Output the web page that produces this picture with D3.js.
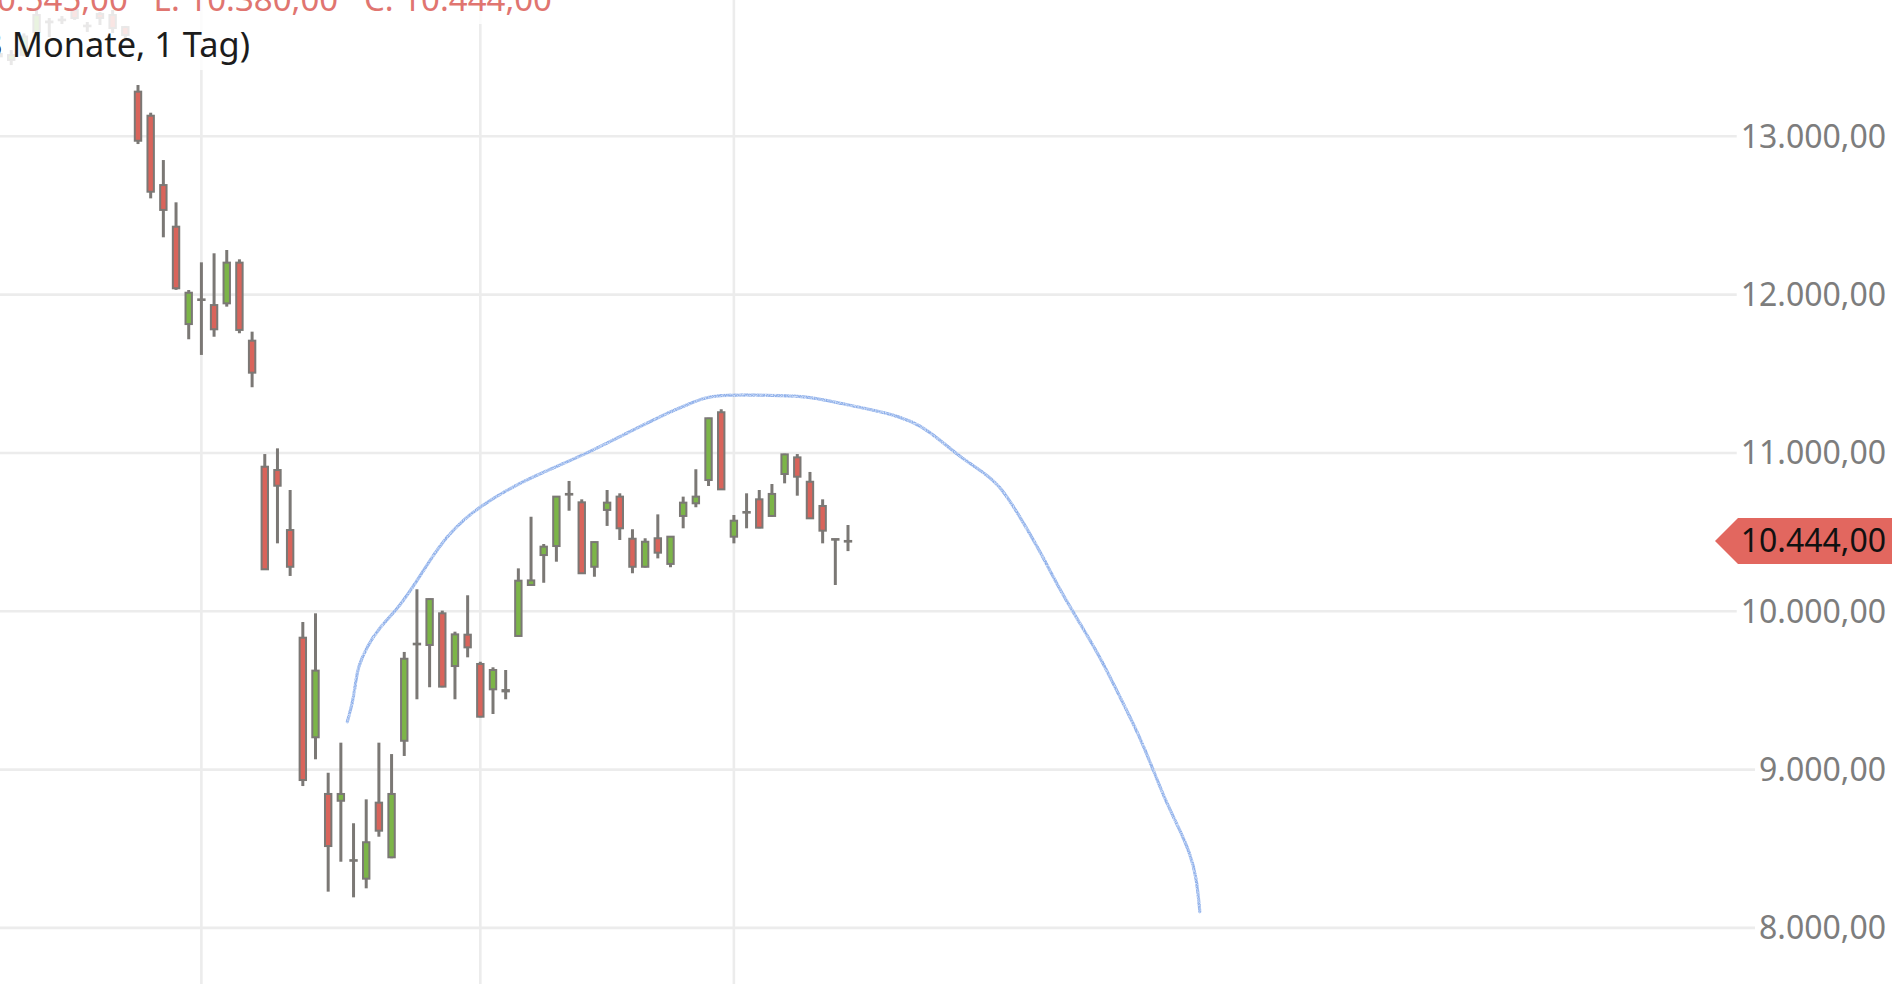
<!DOCTYPE html>
<html><head><meta charset="utf-8">
<script src="https://cdn.jsdelivr.net/npm/d3@7"></script>
<style>
html,body{margin:0;padding:0;background:#fff;overflow:hidden}
svg{display:block}
text{font-family:"Noto Sans","Open Sans",sans-serif}
</style></head><body>
<svg id="chart" width="1892" height="984"></svg>
<script>
// ---- data (trading days) ----
const dates = [
 "2020-02-07","2020-02-10","2020-02-11","2020-02-12","2020-02-13","2020-02-14",
 "2020-02-17","2020-02-18","2020-02-19","2020-02-20","2020-02-21",
 "2020-02-24","2020-02-25","2020-02-26","2020-02-27","2020-02-28",
 "2020-03-02","2020-03-03","2020-03-04","2020-03-05","2020-03-06",
 "2020-03-09","2020-03-10","2020-03-11","2020-03-12","2020-03-13",
 "2020-03-16","2020-03-17","2020-03-18","2020-03-19","2020-03-20",
 "2020-03-23","2020-03-24","2020-03-25","2020-03-26","2020-03-27",
 "2020-03-30","2020-03-31","2020-04-01","2020-04-02","2020-04-03",
 "2020-04-06","2020-04-07","2020-04-08","2020-04-09",
 "2020-04-14","2020-04-15","2020-04-16","2020-04-17",
 "2020-04-20","2020-04-21","2020-04-22","2020-04-23","2020-04-24",
 "2020-04-27","2020-04-28","2020-04-29","2020-04-30",
 "2020-05-04","2020-05-05","2020-05-06","2020-05-07","2020-05-08",
 "2020-05-11","2020-05-12","2020-05-13","2020-05-14","2020-05-15"
];
const open = [13520,13482,13515,13659,13725,13737,13798,13699,13773,13766,13690,
 13282,13130,12692,12429,11814, 11970,11934,11945,12202,11709,
 10913,10892,10513,9833,9204, 8846,8803,8428,8311,8791,
 8446,9182,9795,9787,9987, 9654,9852,9667,9507,9502,
 9844,10166,10355,10412, 10741,10688,10281,10640,
 10724,10458,10281,10461,10299, 10602,10682,10829,11257,
 10471,10627,10707,10602,10867, 10972,10818,10665,10456,10440];
const high = [13548,13545,13650,13798,13747,13760,13804,13722,13785,13798,13697,
 13324,13149,12850,12583,12029, 12204,12261,12282,12223,11766,
 10993,11029,10766,9932,9987, 8980,9170,8661,8812,9170,
 9098,9743,10139,10080,10004, 9871,10101,9681,9646,9629,
 10271,10597,10425,10727, 10823,10707,10440,10766,
 10745,10518,10461,10612,10475, 10724,10897,11222,11276,
 10608,10745,10766,10804,10995, 10993,10880,10707,10458,10545];
const low = [13495,13450,13505,13652,13627,13709,13735,13659,13703,13652,13620,
 12951,12608,12362,12030,11718, 11619,11734,11924,11756,11415,
 10262,10429,10223,8896,9065, 8229,8418,8193,8250,8576,
 8440,9086,9444,9520,9520, 9444,9709,9330,9351,9444,
 9840,10163,10180,10313, 10635,10236,10218,10539,
 10450,10240,10276,10334,10278, 10524,10657,10791,10766,
 10429,10524,10524,10598,10808, 10730,10583,10429,10166,10380];
const close = [13505,13513,13630,13766,13720,13733,13747,13695,13747,13684,13640,
 12972,12650,12535,12040,12012, 11966,11781,12202,11777,11507,
 10265,10793,10281,8934,9625, 8517,8846,8424,8541,8614,
 8846,9700,9791,10077,9524, 9854,9772,9334,9629,9494,
 10193,10195,10408,10724, 10737,10240,10437,10686,
 10524,10281,10439,10370,10471, 10686,10724,11219,10770,
 10572,10623,10528,10741,10991, 10850,10587,10509,10452,10444];

const yTicks = [8000, 9000, 10000, 11000, 12000, 13000];
const monthStarts = ["2020-03-02", "2020-04-01", "2020-05-04"];

// freehand drawing: trading-day position (same units as dates index) and value
const drawingT = [27.51,27.98,28.19,28.37,29.04,30.09,31.40,32.71,34.03,35.34,36.65,37.97,
 40.08,42.17,44.28,46.39,48.48,50.59,52.70,54.27,55.85,57.43,60.05,63.21,64.53,66.36,
 68.99,71.09,72.67,74.25,75.83,77.40,78.98,80.56,82.14,83.71,85.29,86.87,88.44,90.02,
 91.07,92.13,93.18,93.97,94.49,94.75];
const drawingValue = [9302,9440,9566,9650,9776,9902,10008,10155,10324,10471,10576,10660,
 10766,10850,10924,10998,11082,11166,11250,11303,11355,11366,11366,11360,11345,11314,
 11271,11229,11176,11082,10976,10892,10798,10597,10381,10134,9924,9713,9460,9208,
 8997,8787,8618,8471,8323,8102];

const titleText = "DAX (3 Monate, 1 Tag)";

// ---- drawing ----
const W = 1892, H = 984;
const svg = d3.select("#chart");
const de = d3.formatLocale({decimal: ",", thousands: ".", grouping: [3], currency: ["", "€"]});
const fmt = de.format(",.2f");

const x = d3.scaleLinear().domain([11, 67]).range([138, 848]);
const y = d3.scaleLinear().domain([8000, 13000]).range([927.9, 136.3]);

// grain filter for the freehand stroke
const defs = svg.append("defs");
const f = defs.append("filter").attr("id", "grain").attr("filterUnits", "userSpaceOnUse")
  .attr("x", 0).attr("y", 0).attr("width", W).attr("height", H);
f.append("feTurbulence").attr("type", "fractalNoise").attr("baseFrequency", 1.1)
  .attr("numOctaves", 1).attr("seed", 4).attr("result", "n");
f.append("feColorMatrix").attr("in", "n").attr("type", "matrix")
  .attr("values", "0 0 0 0 0  0 0 0 0 0  0 0 0 0 0  0 0 0 2.4 -0.55").attr("result", "a");
f.append("feComposite").attr("in", "SourceGraphic").attr("in2", "a").attr("operator", "in");

const gridColor = "#ececec";
const gGrid = svg.append("g");
gGrid.selectAll("line.h").data(yTicks).join("line")
  .attr("x1", 0).attr("x2", W)
  .attr("y1", d => y(d)).attr("y2", d => y(d))
  .attr("stroke", gridColor).attr("stroke-width", 2.6);
gGrid.selectAll("line.v").data(monthStarts).join("line")
  .attr("x1", d => x(dates.indexOf(d))).attr("x2", d => x(dates.indexOf(d)))
  .attr("y1", 0).attr("y2", H)
  .attr("stroke", gridColor).attr("stroke-width", 2.6);

const candles = dates.map((d, i) => ({i, o: open[i], h: high[i], l: low[i], c: close[i]}));
const outline = "#7b7875";
const gC = svg.append("g");
const cg = gC.selectAll("g").data(candles).join("g");
cg.append("line")
  .attr("x1", d => x(d.i)).attr("x2", d => x(d.i))
  .attr("y1", d => y(d.h)).attr("y2", d => y(d.l))
  .attr("stroke", outline).attr("stroke-width", 3);
cg.append("rect")
  .attr("x", d => x(d.i) - 3.2).attr("width", 6.4)
  .attr("y", d => y(Math.max(d.o, d.c)))
  .attr("height", d => Math.max(Math.abs(y(d.o) - y(d.c)), 0.6))
  .attr("fill", d => d.c >= d.o ? "#7cb548" : "#d9645b")
  .attr("stroke", outline).attr("stroke-width", 2);

// freehand curve
const pts = drawingT.map((t, i) => ({t, v: drawingValue[i]}));
const line = d3.line().x(d => x(d.t)).y(d => y(d.v)).curve(d3.curveBasis);
svg.append("path").datum(pts).attr("d", line)
  .attr("fill", "none").attr("stroke", "#c9daf6").attr("stroke-width", 3.2)
  .attr("stroke-linecap", "round").attr("opacity", 0.7);
svg.append("path").datum(pts).attr("d", line)
  .attr("fill", "none").attr("stroke", "#8eafea").attr("stroke-width", 3)
  .attr("stroke-linecap", "round").attr("filter", "url(#grain)");

// legend overlay
svg.append("rect").attr("x", 0).attr("y", 0).attr("width", 566).attr("height", 24)
  .attr("fill", "#fff").attr("opacity", 0.83);
svg.append("rect").attr("x", 0).attr("y", 24).attr("width", 262).attr("height", 46)
  .attr("fill", "#fff").attr("opacity", 0.83);

const n = dates.length - 1;
const ohlcText = `O: ${fmt(open[n])}   H: ${fmt(high[n])}   L: ${fmt(low[n])}   C: ${fmt(close[n])}`;
svg.append("text").attr("x", 552).attr("y", 11).attr("text-anchor", "end")
  .style("white-space", "pre").attr("font-size", 33).attr("fill", "#e07570")
  .text(ohlcText);
svg.append("text").attr("x", 250).attr("y", 57).attr("text-anchor", "end")
  .attr("font-size", 34.4).attr("fill", "#1c1c1c").text(titleText);

// y axis labels
const gA = svg.append("g");
yTicks.forEach(t => {
  const g = gA.append("g");
  const bg = g.append("rect").attr("fill", "#fff");
  const tx = g.append("text").attr("x", 1886).attr("y", y(t)).attr("dy", "0.36em")
    .attr("text-anchor", "end").attr("font-size", 32).attr("fill", "#7d7d7d").text(fmt(t));
  const bb = tx.node().getBBox();
  bg.attr("x", bb.x - 4).attr("y", y(t) - 4).attr("width", W - bb.x + 4).attr("height", 8);
});

// last price tag
const ly = y(close[n]);
svg.append("path")
  .attr("d", `M1715,${ly} L1738,${ly - 23} L${W},${ly - 23} L${W},${ly + 23} L1738,${ly + 23} Z`)
  .attr("fill", "#e2675f");
svg.append("text").attr("x", 1886).attr("y", ly).attr("dy", "0.36em")
  .attr("text-anchor", "end").attr("font-size", 32).attr("fill", "#111").text(fmt(close[n]));
</script>
</body></html>
